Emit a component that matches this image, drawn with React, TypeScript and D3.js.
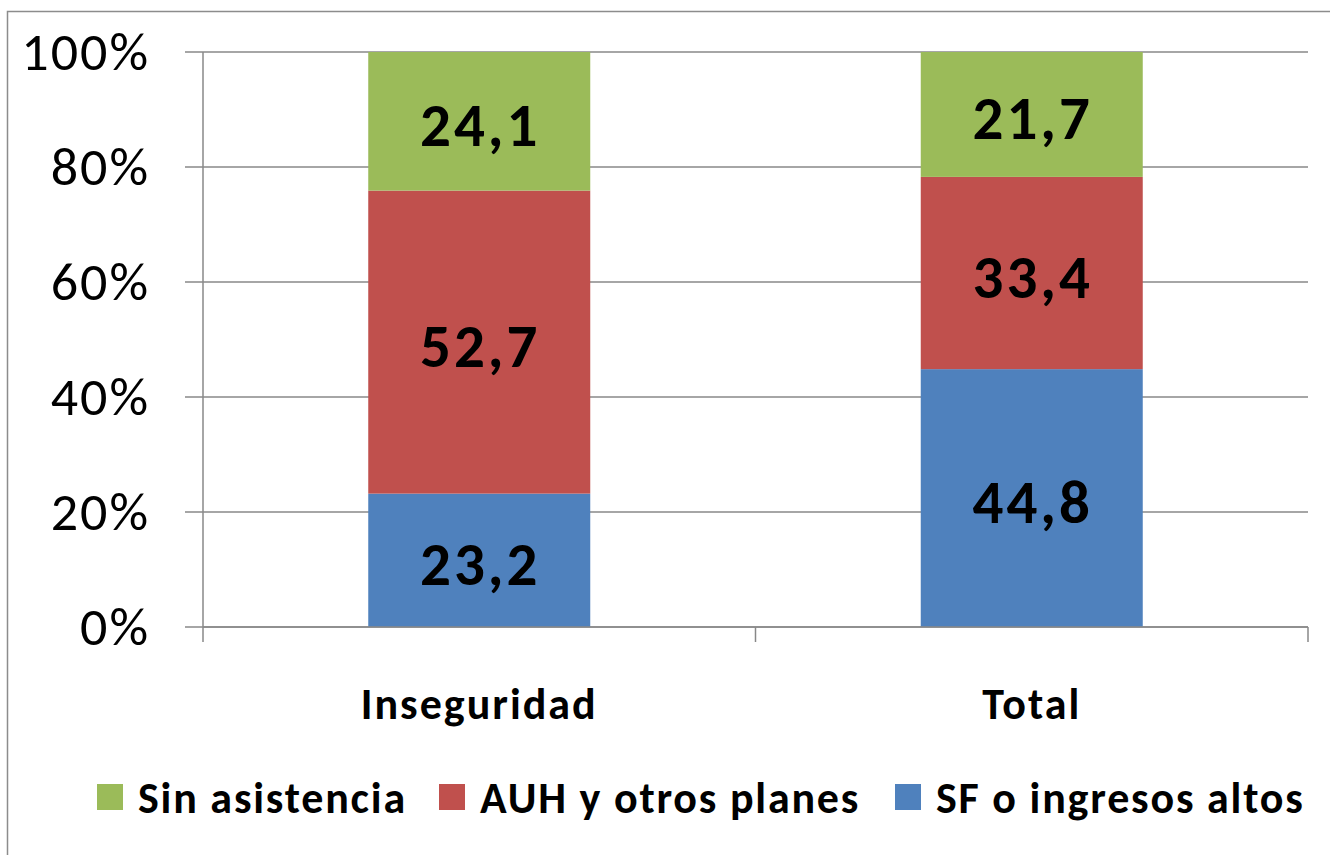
import { useEffect, useRef } from "react";
import * as d3 from "d3";

// categorías y series (valores en %)
const categories = ["Inseguridad", "Total"];
const seriesNames = ["SF o ingresos altos", "AUH y otros planes", "Sin asistencia"];
const sfValues = [23.2, 44.8];
const auhValues = [52.7, 33.4];
const sinValues = [24.1, 21.7];
const yTicks = [0, 0.2, 0.4, 0.6, 0.8, 1];
const legendOrder = ["Sin asistencia", "AUH y otros planes", "SF o ingresos altos"];

const colors: Record<string, string> = {
  "SF o ingresos altos": "#4F81BD",
  "AUH y otros planes": "#C0504D",
  "Sin asistencia": "#9BBB59",
};

const FONT = "Carlito, Lato, 'Open Sans', sans-serif";

export default function App() {
  const ref = useRef<SVGSVGElement>(null);

  useEffect(() => {
    const width = 1330;
    const height = 855;
    const marginTop = 52;
    const marginRight = 22;
    const marginBottom = 228;
    const marginLeft = 203;

    const svg = d3.select(ref.current!);
    svg.selectAll("*").remove();

    const rows = categories.map((c, i) => ({
      cat: c,
      "SF o ingresos altos": sfValues[i],
      "AUH y otros planes": auhValues[i],
      "Sin asistencia": sinValues[i],
    }));

    const stack = d3.stack<any>().keys(seriesNames).offset(d3.stackOffsetExpand);
    const stacked = stack(rows);

    const x = d3.scaleBand()
      .domain(categories)
      .range([marginLeft, width - marginRight])
      .paddingInner(0)
      .paddingOuter(0);

    const y = d3.scaleLinear()
      .domain([0, 1])
      .range([height - marginBottom, marginTop]);

    // borde del gráfico
    svg.append("rect")
      .attr("x", 7.5).attr("y", 11.5)
      .attr("width", 1340).attr("height", 860)
      .attr("fill", "none")
      .attr("stroke", "#8c8c8c")
      .attr("stroke-width", 1.5);

    // grilla
    svg.append("g")
      .selectAll("line")
      .data(yTicks)
      .join("line")
      .attr("x1", marginLeft - 18)
      .attr("x2", width - marginRight)
      .attr("y1", d => y(d))
      .attr("y2", d => y(d))
      .attr("stroke", "#888")
      .attr("stroke-width", 1.5);

    // eje y
    svg.append("line")
      .attr("x1", marginLeft).attr("x2", marginLeft)
      .attr("y1", marginTop).attr("y2", height - marginBottom)
      .attr("stroke", "#888").attr("stroke-width", 1.5);

    svg.append("g")
      .selectAll("text")
      .data(yTicks)
      .join("text")
      .attr("x", 150)
      .attr("y", d => y(d))
      .attr("dy", "0.34em")
      .attr("text-anchor", "end")
      .attr("font-family", FONT)
      .attr("font-size", 54)
      .attr("letter-spacing", 2)
      .attr("fill", "#000")
      .text(d => d3.format(".0%")(d));

    // barras
    const barW = 222;
    const groups = svg.append("g")
      .selectAll("g")
      .data(stacked)
      .join("g")
      .attr("fill", d => colors[d.key]);

    groups.selectAll("rect")
      .data(d => d)
      .join("rect")
      .attr("x", d => x(d.data.cat)! + x.bandwidth() / 2 - barW / 2)
      .attr("y", d => y(d[1]))
      .attr("width", barW)
      .attr("height", d => y(d[0]) - y(d[1]));

    // etiquetas de valor
    stacked.forEach(s => {
      svg.append("g")
        .selectAll("text")
        .data(s)
        .join("text")
        .attr("x", d => x(d.data.cat)! + x.bandwidth() / 2 + 1)
        .attr("y", d => (y(d[0]) + y(d[1])) / 2 + 3)
        .attr("dy", "0.36em")
        .attr("text-anchor", "middle")
        .attr("font-family", FONT)
        .attr("font-weight", "bold")
        .attr("font-size", 61)
        .attr("letter-spacing", 3)
        .attr("fill", "#000")
        .text(d => d3.format(".1f")(d.data[s.key]).replace(".", ","));
    });

    // eje x
    svg.append("line")
      .attr("x1", marginLeft).attr("x2", width - marginRight)
      .attr("y1", y(0)).attr("y2", y(0))
      .attr("stroke", "#888").attr("stroke-width", 1.5);

    const xTickPos = [marginLeft, ...categories.map(c => x(c)! + x.bandwidth())];
    svg.append("g")
      .selectAll("line")
      .data(xTickPos)
      .join("line")
      .attr("x1", d => d).attr("x2", d => d)
      .attr("y1", y(0)).attr("y2", y(0) + 15)
      .attr("stroke", "#888").attr("stroke-width", 1.5);

    svg.append("g")
      .selectAll("text")
      .data(categories)
      .join("text")
      .attr("x", d => x(d)! + x.bandwidth() / 2)
      .attr("y", 719)
      .attr("text-anchor", "middle")
      .attr("font-family", FONT)
      .attr("font-weight", "bold")
      .attr("font-size", 44)
      .attr("letter-spacing", 2)
      .attr("fill", "#000")
      .text(d => d);

    // leyenda
    const legendX = [97, 439, 895];
    const legend = svg.append("g")
      .selectAll("g")
      .data(legendOrder)
      .join("g")
      .attr("transform", (d, i) => `translate(${legendX[i]},784)`);

    legend.append("rect")
      .attr("width", 26).attr("height", 26)
      .attr("fill", d => colors[d]);

    legend.append("text")
      .attr("x", 41)
      .attr("y", 29)
      .attr("font-family", FONT)
      .attr("font-weight", "bold")
      .attr("font-size", 44)
      .attr("letter-spacing", 1.8)
      .attr("fill", "#000")
      .text(d => d);
  }, []);

  return (
    <svg
      ref={ref}
      width={1330}
      height={855}
      style={{ position: "absolute", left: 0, top: 0, display: "block" }}
    />
  );
}
